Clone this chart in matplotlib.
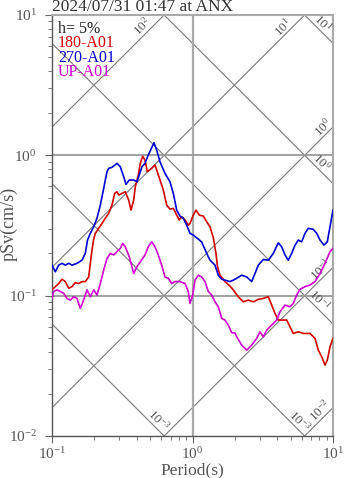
import numpy as np
import matplotlib
matplotlib.use('Agg')
import matplotlib.pyplot as plt

plt.rcParams['font.family'] = ['Liberation Serif', 'DejaVu Serif']
plt.rcParams['mathtext.fontset'] = 'custom'
plt.rcParams['mathtext.rm'] = 'Liberation Serif'
plt.rcParams['mathtext.it'] = 'Liberation Serif:italic'
plt.rcParams['mathtext.bf'] = 'Liberation Serif:bold'

# --- pseudo velocity response spectra, h=5% (period s, pSv cm/s) ---
t_180 = [0.100, 0.1056, 0.1116, 0.1178, 0.1243, 0.1315, 0.1388, 0.1465, 0.1549, 0.1635,
         0.1726, 0.1825, 0.1874, 0.1926, 0.1974, 0.2033, 0.2150, 0.2270, 0.2394, 0.2532,
         0.2673, 0.2794, 0.2902, 0.2984, 0.3149, 0.3323, 0.3514, 0.3650, 0.3815, 0.3916,
         0.4094, 0.4250, 0.4420, 0.4591, 0.4767, 0.5123, 0.5408, 0.5615, 0.5869, 0.6197,
         0.6552, 0.6914, 0.7300, 0.7718, 0.8053, 0.8379, 0.8844, 0.9335, 0.9598, 1.013,
         1.059, 1.118, 1.194, 1.262, 1.332, 1.406, 1.470, 1.506, 1.569, 1.703,
         1.849, 1.951, 2.118, 2.299, 2.495, 2.708, 2.940, 3.191, 3.463, 3.661,
         3.865, 4.079, 4.428, 4.681, 4.942, 5.218, 5.662, 6.146, 6.861, 7.444,
         7.860, 8.312, 8.774, 9.108, 9.520, 10.0]
sv_180 = [0.110, 0.116, 0.122, 0.131, 0.126, 0.113, 0.116, 0.124, 0.122, 0.126,
          0.126, 0.136, 0.170, 0.211, 0.249, 0.278, 0.302, 0.327, 0.356, 0.386,
          0.442, 0.536, 0.550, 0.521, 0.536, 0.550, 0.480, 0.407, 0.480, 0.597,
          0.704, 0.877, 0.984, 0.926, 0.764, 0.808, 0.853, 0.764, 0.667, 0.566,
          0.442, 0.414, 0.419, 0.375, 0.346, 0.365, 0.346, 0.318, 0.327, 0.375,
          0.407, 0.375, 0.369, 0.336, 0.310, 0.259, 0.200, 0.161, 0.140, 0.126,
          0.117, 0.110, 0.0982, 0.0904, 0.0930, 0.0904, 0.0941, 0.0956, 0.0982, 0.0857,
          0.0748, 0.0670, 0.0670, 0.0670, 0.0600, 0.0538, 0.0553, 0.0538, 0.0538, 0.0496,
          0.0409, 0.0367, 0.0320, 0.0347, 0.0432, 0.0496]

t_270 = [0.100, 0.1056, 0.1116, 0.1178, 0.1243, 0.1315, 0.1388, 0.1506, 0.1635, 0.1726,
         0.1790, 0.1874, 0.1981, 0.2091, 0.2208, 0.2333, 0.2462, 0.2532, 0.2673, 0.2902,
         0.3063, 0.3237, 0.3363, 0.3549, 0.3815, 0.4027, 0.4250, 0.4370, 0.4591, 0.4846,
         0.5320, 0.5559, 0.5869, 0.6370, 0.6914, 0.7300, 0.7718, 0.8146, 0.8602, 0.9093,
         0.9598, 1.013, 1.100, 1.163, 1.262, 1.332, 1.446, 1.526, 1.614, 1.703,
         1.849, 1.951, 2.064, 2.239, 2.430, 2.638, 2.785, 2.940, 3.191, 3.463,
         3.758, 4.079, 4.313, 4.553, 4.806, 5.082, 5.364, 5.662, 5.986, 6.318,
         6.671, 7.240, 7.656, 8.084, 8.630, 9.108, 9.520, 10.0]
sv_270 = [0.165, 0.148, 0.165, 0.170, 0.165, 0.170, 0.165, 0.170, 0.179, 0.200,
          0.249, 0.278, 0.310, 0.357, 0.442, 0.582, 0.764, 0.808, 0.821, 0.877,
          0.829, 0.704, 0.621, 0.667, 0.667, 0.648, 0.764, 0.829, 0.877, 1.005,
          1.230, 1.091, 0.900, 0.744, 0.648, 0.536, 0.407, 0.369, 0.356, 0.318,
          0.278, 0.270, 0.253, 0.241, 0.200, 0.179, 0.165, 0.140, 0.131, 0.129,
          0.126, 0.129, 0.133, 0.140, 0.136, 0.126, 0.144, 0.165, 0.181, 0.179,
          0.200, 0.238, 0.223, 0.195, 0.179, 0.200, 0.229, 0.249, 0.242, 0.278,
          0.302, 0.297, 0.278, 0.249, 0.229, 0.242, 0.310, 0.407]

t_up = [0.100, 0.1028, 0.1085, 0.1146, 0.1211, 0.1279, 0.1350, 0.1427, 0.1506, 0.1590,
        0.1680, 0.1774, 0.1874, 0.1981, 0.2091, 0.2208, 0.2333, 0.2462, 0.2601, 0.2749,
        0.2902, 0.3063, 0.3186, 0.3323, 0.3549, 0.3815, 0.4027, 0.4250, 0.4591, 0.4846,
        0.5123, 0.5408, 0.5707, 0.6035, 0.6370, 0.6725, 0.7110, 0.7505, 0.8146, 0.8844,
        0.9335, 0.9598, 1.003, 1.042, 1.100, 1.163, 1.227, 1.296, 1.369, 1.446,
        1.526, 1.614, 1.703, 1.798, 1.901, 2.007, 2.064, 2.239, 2.430, 2.638,
        2.863, 3.022, 3.191, 3.375, 3.661, 3.974, 4.195, 4.553, 4.942, 5.218,
        5.514, 5.823, 6.318, 6.861, 7.444, 8.084, 8.774, 9.520, 10.0]
sv_up = [0.0956, 0.107, 0.110, 0.107, 0.104, 0.0956, 0.0930, 0.0982, 0.0956, 0.0812,
         0.0930, 0.110, 0.0982, 0.110, 0.101, 0.122, 0.152, 0.184, 0.200, 0.195,
         0.206, 0.217, 0.236, 0.223, 0.189, 0.144, 0.161, 0.174, 0.195, 0.223,
         0.242, 0.223, 0.195, 0.165, 0.136, 0.133, 0.122, 0.126, 0.126, 0.122,
         0.107, 0.0881, 0.101, 0.129, 0.140, 0.136, 0.126, 0.107, 0.101, 0.0904,
         0.0833, 0.0689, 0.0670, 0.0617, 0.0545, 0.0541, 0.0509, 0.0444, 0.0409, 0.0444,
         0.0496, 0.0553, 0.0509, 0.0569, 0.0617, 0.0670, 0.0767, 0.0857, 0.0833, 0.0881,
         0.101, 0.111, 0.116, 0.119, 0.126, 0.144, 0.170, 0.206, 0.217]

series = [('180-A01', t_180, sv_180, '#d00000'),
          ('270-A01', t_270, sv_270, '#0000d0'),
          ('UP-A01', t_up, sv_up, '#cc00cc')]

# tripartite guide lines: acceleration (gal) and displacement (cm)
acc_levels = [0.01, 0.1, 1, 10, 100]
disp_levels = [0.001, 0.01, 0.1, 1, 10]
# (level, period where the label sits, text)
acc_labels = [(100, 0.478, r'$10^{2}$'), (10, 4.76, r'$10^{1}$'), (1, 9.23, r'$10^{0}$'),
              (0.1, 8.84, r'$10^{-1}$'), (0.01, 8.77, r'$10^{-2}$')]
disp_labels = [(10, 7.73, r'$10^{1}$'), (1, 7.67, r'$10^{0}$'), (0.1, 7.37, r'$10^{-1}$'),
               (0.01, 5.30, r'$10^{-3}$'), (0.001, 0.526, r'$10^{-3}$')]

W, H = 347, 478
fig = plt.figure(figsize=(W / 100, H / 100), dpi=100)
ax = fig.add_axes([52 / W, 42 / H, 281 / W, 421 / H])
ax.set_xscale('log')
ax.set_yscale('log')
ax.set_xlim(0.1, 10)
ax.set_ylim(0.01, 10)

tt = np.array([0.1, 10.0])
for a in acc_levels:
    ax.plot(tt, a * tt / (2 * np.pi), color='#7a7a7a', lw=0.8, zorder=1)
for d in disp_levels:
    ax.plot(tt, 2 * np.pi * d / tt, color='#7a7a7a', lw=0.8, zorder=1)

for a, tp, txt in acc_labels:
    ax.annotate(txt, xy=(tp, a * tp / (2 * np.pi)), xytext=(-5, 5), textcoords='offset pixels',
                rotation=45, rotation_mode='anchor', ha='center', va='center',
                fontsize=9.5, color='#555555', annotation_clip=False)
for d, tp, txt in disp_labels:
    ax.annotate(txt, xy=(tp, 2 * np.pi * d / tp), xytext=(5, 5), textcoords='offset pixels',
                rotation=-45, rotation_mode='anchor', ha='center', va='center',
                fontsize=9.5, color='#555555', annotation_clip=False)

ax.axvline(1, color='#aaaaaa', lw=1.6, zorder=1)
for yv in (1, 0.1):
    ax.axhline(yv, color='#999999', lw=1.3, zorder=1)

for name, t, sv, c in series:
    ax.plot(t, sv, color=c, lw=1.2, zorder=3)

# legend-style text block
ax.text(0.021, 0.967, 'h= 5%', transform=ax.transAxes, fontsize=11.5, color='#222222', va='center')
for i, (name, t, sv, c) in enumerate(series):
    ax.text(0.021, 0.967 - 0.0345 * (i + 1), name, transform=ax.transAxes,
            fontsize=11.5, color=c, va='center')

for s in ('left', 'bottom'):
    ax.spines[s].set_color('#555555')
    ax.spines[s].set_linewidth(1.0)
for s in ('top', 'right'):
    ax.spines[s].set_color('#aaaaaa')
    ax.spines[s].set_linewidth(1.5)

ax.tick_params(which='both', direction='out', color='#666666', labelcolor='#555555',
               top=False, right=False)
ax.tick_params(which='major', length=5, labelsize=11)
ax.tick_params(axis='x', which='major', pad=2.5)
ax.tick_params(axis='y', which='major', pad=6)
ax.tick_params(which='minor', length=3)

ax.set_title('2024/07/31 01:47 at ANX', loc='left', fontsize=12.5, pad=1, color='#333333')
fig.text(9 / W, 1 - 224 / H, 'pSv(cm/s)', rotation=90, ha='center', va='center',
         fontsize=13, color='#555555')
fig.text(192.5 / W, 1 - 470 / H, 'Period(s)', ha='center', va='center',
         fontsize=12.5, color='#555555')

fig.savefig('out.png', dpi=100)
